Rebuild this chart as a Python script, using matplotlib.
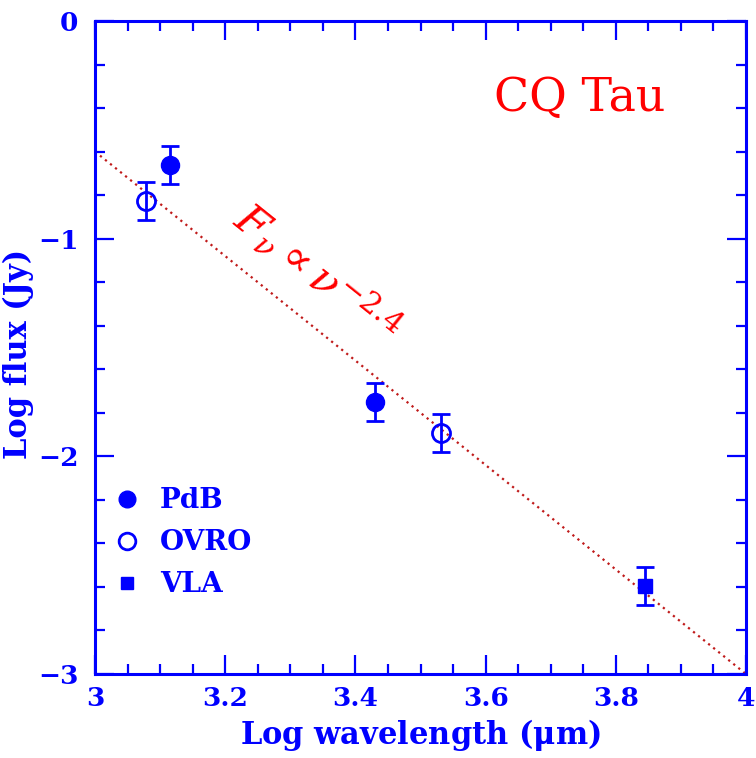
import matplotlib
matplotlib.use('Agg')
import matplotlib.pyplot as plt
from matplotlib.ticker import MultipleLocator, FixedLocator
from matplotlib.lines import Line2D
import numpy as np

# CQ Tau mm/cm fluxes (log lambda in micron, log flux in Jy)
pdb_x = [3.115, 3.430]
pdb_y = [-0.660, -1.750]
pdb_err = [0.088, 0.088]

ovro_x = [3.078, 3.531]
ovro_y = [-0.828, -1.893]
ovro_err = [0.088, 0.088]

vla_x = [3.845]
vla_y = [-2.596]
vla_err = [0.088]

# power-law fit shown as dotted line
fit_x = [3.0, 4.0]
fit_y0 = -0.6
fit_slope = -2.4

blue = '#0000ff'
red = '#ff0000'

plt.rcParams['font.family'] = 'DejaVu Serif'
plt.rcParams['mathtext.fontset'] = 'dejavuserif'

fig = plt.figure(figsize=(7.56, 7.58), dpi=100)
ax = fig.add_axes([95/756, 84/758, 651/756, 653/758])

fx = np.array(fit_x)
ax.plot(fx, fit_y0 + fit_slope*(fx - 3.0), color='#c01a1a', lw=1.6,
        linestyle=(0, (1, 1.9)), zorder=1)

ebk = dict(ls='none', ecolor=blue, elinewidth=2, capsize=6.5, capthick=2, zorder=3)
ax.errorbar(pdb_x, pdb_y, yerr=pdb_err, marker='o', ms=13, mfc=blue, mec=blue, **ebk)
ax.errorbar(ovro_x, ovro_y, yerr=ovro_err, marker='o', ms=13, mfc='none', mec=blue,
            mew=2, **ebk)
ax.errorbar(vla_x, vla_y, yerr=vla_err, marker='s', ms=9.5, mfc=blue, mec=blue, **ebk)

ax.set_xlim(3, 4)
ax.set_ylim(-3, 0)
ax.xaxis.set_minor_locator(MultipleLocator(0.05))
ax.yaxis.set_major_locator(FixedLocator([0, -1, -2, -3]))
ax.yaxis.set_minor_locator(MultipleLocator(0.2))
ax.set_xticks([3, 3.2, 3.4, 3.6, 3.8, 4])
ax.set_xticklabels(['3', '3.2', '3.4', '3.6', '3.8', '4'], fontweight='bold')
ax.set_yticklabels(['0', '\u22121', '\u22122', '\u22123'], fontweight='bold')

ax.tick_params(which='both', direction='in', top=True, right=True, colors=blue,
               labelsize=19, width=1.6)
ax.tick_params(which='major', length=14, pad=9)
ax.tick_params(axis='y', which='major', pad=12)
ax.tick_params(which='minor', length=7)
for s in ax.spines.values():
    s.set_color(blue)
    s.set_linewidth(2.2)

ax.set_xlabel(r'Log wavelength ($\mathbf{\mu}$m)', color=blue, fontsize=22,
              fontweight='bold', labelpad=4)
ax.set_ylabel('Log flux (Jy)', color=blue, fontsize=22, fontweight='bold')
ax.yaxis.set_label_coords(-0.094, 0.49)

ax.text(3.745, -0.355, 'CQ Tau', color=red, fontsize=33,
        ha='center', va='center')
ax.text(3.34, -1.16, r'$F_\nu \propto \nu^{-2.4}$', color=red, fontsize=31,
        ha='center', va='center', rotation=-38.7, rotation_mode='anchor')

handles = [
    Line2D([], [], ls='none', marker='o', ms=12, mfc=blue, mec=blue),
    Line2D([], [], ls='none', marker='o', ms=12, mfc='none', mec=blue, mew=2),
    Line2D([], [], ls='none', marker='s', ms=9, mfc=blue, mec=blue),
]
leg = ax.legend(handles, ['PdB', 'OVRO', 'VLA'], loc='upper left',
                bbox_to_anchor=(0.006, 0.303), frameon=False,
                prop={'size': 20, 'weight': 'bold'},
                handlelength=1.2, handletextpad=0.6, labelspacing=0.54,
                borderaxespad=0)
for t in leg.get_texts():
    t.set_color(blue)

fig.savefig('out.png', dpi=100)
